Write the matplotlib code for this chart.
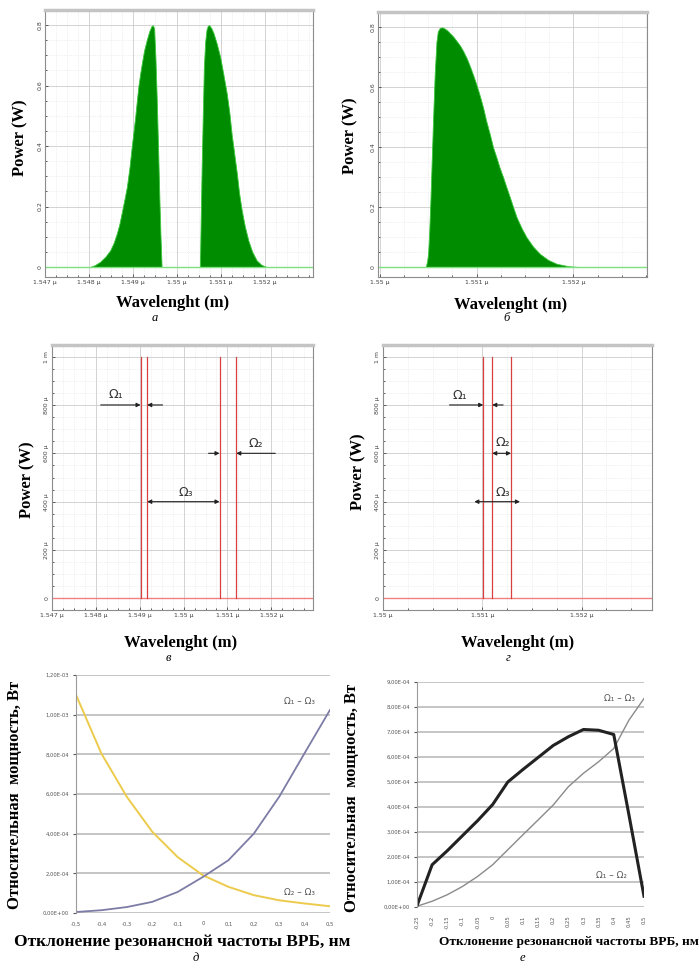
import matplotlib
matplotlib.use('Agg')
import matplotlib.pyplot as plt
from matplotlib.ticker import AutoMinorLocator

# ---- spectra, wavelength in nm, power in W ----
wl_a1 = [1548.02, 1548.13, 1548.25, 1548.37, 1548.48, 1548.56, 1548.63, 1548.69,
         1548.74, 1548.80, 1548.86, 1548.92, 1548.97, 1549.01, 1549.05, 1549.085,
         1549.12, 1549.16, 1549.20, 1549.25, 1549.31, 1549.37, 1549.42, 1549.45,
         1549.48, 1549.51, 1549.54, 1549.57, 1549.60, 1549.625, 1549.65]
p_a1 = [0, 0.006, 0.017, 0.034, 0.055, 0.08, 0.11, 0.142,
        0.177, 0.22, 0.265, 0.33, 0.397, 0.447, 0.497, 0.547,
        0.596, 0.637, 0.673, 0.715, 0.75, 0.78, 0.797, 0.8,
        0.789, 0.69, 0.552, 0.39, 0.221, 0.1, 0]
wl_a2 = [1550.52, 1550.54, 1550.56, 1550.585, 1550.61, 1550.64, 1550.67, 1550.70,
         1550.73, 1550.78, 1550.83, 1550.90, 1550.98, 1551.05, 1551.13, 1551.19,
         1551.24, 1551.30, 1551.36, 1551.41, 1551.47, 1551.54, 1551.62, 1551.71,
         1551.81, 1551.92, 1552.04]
p_a2 = [0, 0.17, 0.331, 0.5, 0.662, 0.745, 0.785, 0.798,
        0.8, 0.79, 0.773, 0.74, 0.695, 0.64, 0.574, 0.51,
        0.441, 0.375, 0.309, 0.245, 0.188, 0.135, 0.088, 0.05,
        0.022, 0.007, 0]

wl_b = [1550.476, 1550.49, 1550.50, 1550.512, 1550.524, 1550.538, 1550.552, 1550.568,
        1550.586, 1550.60, 1550.621, 1550.645, 1550.672, 1550.70, 1550.724, 1550.76,
        1550.793, 1550.83, 1550.862, 1550.90, 1550.931, 1550.965, 1551.0, 1551.035,
        1551.069, 1551.10, 1551.138, 1551.17, 1551.207, 1551.24, 1551.276, 1551.31,
        1551.345, 1551.38, 1551.414, 1551.465, 1551.517, 1551.585, 1551.655, 1551.74,
        1551.828, 1551.95, 1552.069]
p_b = [0, 0.02, 0.044, 0.12, 0.221, 0.36, 0.497, 0.64,
       0.75, 0.785, 0.797, 0.799, 0.795, 0.788, 0.78, 0.768,
       0.754, 0.738, 0.72, 0.695, 0.67, 0.64, 0.607, 0.57,
       0.53, 0.487, 0.442, 0.40, 0.364, 0.33, 0.298, 0.265,
       0.232, 0.198, 0.166, 0.13, 0.099, 0.068, 0.044, 0.024,
       0.011, 0.003, 0]

# resonance lines (nm), height in uW
lines_c = [1549.02, 1549.17, 1550.82, 1551.20]
lines_d = [1551.01, 1551.10, 1551.29]
line_h = 1000

# ---- power vs detuning ----
det_e = ['-0,5', '-0,4', '-0,3', '-0,2', '-0,1', '0', '0,1', '0,2', '0,3', '0,4', '0,5']
w13_e = [0.05, 0.14, 0.30, 0.56, 1.06, 1.82, 2.66, 4.0, 5.86, 8.06, 10.24]   # x1e-4
w23_e = [11.0, 8.04, 5.86, 4.10, 2.82, 1.90, 1.32, 0.90, 0.64, 0.48, 0.34]

det_f = ['-0,25', '-0,2', '-0,15', '-0,1', '-0,05', '0', '0,05', '0,1',
         '0,15', '0,2', '0,25', '0,3', '0,35', '0,4', '0,45', '0,5']
w12_f = [0.05, 1.69, 2.25, 2.85, 3.45, 4.1, 5.0, 5.5,
         5.98, 6.46, 6.81, 7.1, 7.07, 6.9, 3.7, 0.43]                      # x1e-4
w13_f = [0.03, 0.23, 0.49, 0.82, 1.22, 1.69, 2.29, 2.89,
         3.48, 4.08, 4.81, 5.35, 5.81, 6.34, 7.47, 8.34]

W, H = 699, 972
fig = plt.figure(figsize=(W / 100, H / 100), dpi=100)
SERIF = 'Liberation Serif'


def px_axes(l, t, r, b):
    return fig.add_axes([l / W, 1 - b / H, (r - l) / W, (b - t) / H])


def ftext(x, y, s, **kw):
    fig.text(x / W, 1 - y / H, s, **kw)


def osa_axes(box, xlim, xticks, ylim, yticks, ylabels):
    ax = px_axes(*box)
    ax.set_xlim(*xlim)
    ax.set_ylim(*ylim)
    ax.set_xticks(xticks)
    ax.set_xticklabels(['{:g} \u00b5'.format(v / 1000) for v in xticks])
    ax.set_yticks(yticks)
    ax.set_yticklabels(ylabels, rotation=90, va='center')
    ax.xaxis.set_minor_locator(AutoMinorLocator(4))
    ax.yaxis.set_minor_locator(AutoMinorLocator(4))
    ax.grid(which='major', color='#cccccc', lw=0.6)
    ax.grid(which='minor', color='#e2e2e2', lw=0.5, ls=':')
    ax.tick_params(which='both', direction='in', length=2, width=0.6,
                   labelsize=4.5, colors='#444444', pad=2)
    ax.tick_params(which='minor', length=1.5)
    for s in ax.spines.values():
        s.set_color('#8c8c8c')
        s.set_linewidth(0.8)
    ax.spines['top'].set_color('#c4c4c4')
    ax.spines['top'].set_linewidth(2.5)
    ax.set_axisbelow(True)
    return ax


def excel_axes(box, ymax, ystep, cats, rot):
    ax = px_axes(*box)
    ax.set_xlim(0, len(cats) - 1)
    ax.set_ylim(0, ymax)
    yt = [i * ystep for i in range(int(round(ymax / ystep)) + 1)]
    ax.set_yticks(yt)
    ax.set_yticklabels([('%.2E' % (v * 1e-4)).replace('.', ',') for v in yt])
    ax.set_xticks(range(len(cats)))
    ax.set_xticklabels(cats, rotation=rot)
    ax.grid(axis='y', color='#c0c0c0', lw=1.3)
    for k in ['top', 'right', 'bottom']:
        ax.spines[k].set_visible(False)
    ax.spines['left'].set_color('#9a9a9a')
    ax.tick_params(axis='y', length=2, labelsize=3.8, colors='#555555', pad=3)
    ax.tick_params(axis='x', length=0, labelsize=3.8, colors='#555555', pad=6)
    ax.set_axisbelow(True)
    return ax


label_kw = dict(family=SERIF, weight='bold', fontsize=12, ha='center', va='center')
letter_kw = dict(family=SERIF, style='italic', fontsize=9, ha='center', va='center')
om_kw = dict(fontsize=9, color='#333333', ha='center', va='center')

# ---- a ----
pw_ticks = [0, 0.2, 0.4, 0.6, 0.8]
pw_labels = ['0', '0.2', '0.4', '0.6', '0.8']
ax = osa_axes((45, 10, 313, 277), (1547.0, 1553.09), [1547, 1548, 1549, 1550, 1551, 1552],
              (-0.033, 0.85), pw_ticks, pw_labels)
ax.axhline(0, color='#7ee07e', lw=1.0)
ax.fill_between(wl_a1, p_a1, color='#008c00', edgecolor='#3cc83c', lw=0.6)
ax.fill_between(wl_a2, p_a2, color='#008c00', edgecolor='#3cc83c', lw=0.6)
ftext(20, 138, 'Power (W)', rotation=90, **label_kw)
ftext(173, 303, 'Wavelenght (m)', **label_kw)
ftext(155, 318, 'а', **letter_kw)

# ---- b ----
ax = osa_axes((378, 12, 647, 277), (1549.983, 1552.76), [1550, 1551, 1552],
              (-0.033, 0.85), pw_ticks, pw_labels)
ax.axhline(0, color='#7ee07e', lw=1.0)
ax.fill_between(wl_b, p_b, color='#008c00', edgecolor='#3cc83c', lw=0.6)
ftext(350, 136, 'Power (W)', rotation=90, **label_kw)
ftext(511, 305, 'Wavelenght (m)', **label_kw)
ftext(507, 318, 'б', **letter_kw)

# ---- c ----
uw_ticks = [0, 200, 400, 600, 800, 1000]
uw_labels = ['0', '200 \u00b5', '400 \u00b5', '600 \u00b5', '800 \u00b5', '1 m']
arr = dict(arrowstyle='-|>', color='#222222', lw=0.8, mutation_scale=6, shrinkA=0, shrinkB=0)
darr = dict(arrowstyle='<|-|>', color='#222222', lw=0.8, mutation_scale=6, shrinkA=0, shrinkB=0)

ax = osa_axes((52, 345, 313, 610), (1547.0, 1552.95), [1547, 1548, 1549, 1550, 1551, 1552],
              (-48, 1048), uw_ticks, uw_labels)
ax.axhline(0, color='#f08080', lw=1.0)
for x in lines_c:
    ax.plot([x, x], [0, line_h], color='#d84040', lw=0.9)
ax.annotate('', xy=(lines_c[0], 800), xytext=(1548.11, 800), arrowprops=arr)
ax.annotate('', xy=(lines_c[1], 800), xytext=(1549.52, 800), arrowprops=arr)
ax.text(1548.45, 845, 'Ω\u2081', **om_kw)
ax.annotate('', xy=(lines_c[2], 600), xytext=(1550.57, 600), arrowprops=arr)
ax.annotate('', xy=(lines_c[3], 600), xytext=(1552.09, 600), arrowprops=arr)
ax.text(1551.64, 640, 'Ω\u2082', **om_kw)
ax.annotate('', xy=(lines_c[1], 400), xytext=(lines_c[2], 400), arrowprops=darr)
ax.text(1550.05, 440, 'Ω\u2083', **om_kw)
ftext(27, 480, 'Power (W)', rotation=90, **label_kw)
ftext(181, 643, 'Wavelenght (m)', **label_kw)
ftext(168, 658, 'в', **letter_kw)

# ---- d ----
ax = osa_axes((383, 345, 652, 610), (1550.0, 1552.71), [1550, 1551, 1552],
              (-48, 1048), uw_ticks, uw_labels)
ax.axhline(0, color='#f08080', lw=1.0)
for x in lines_d:
    ax.plot([x, x], [0, line_h], color='#d84040', lw=0.9)
ax.annotate('', xy=(lines_d[0], 800), xytext=(1550.67, 800), arrowprops=arr)
ax.annotate('', xy=(lines_d[1], 800), xytext=(1551.21, 800), arrowprops=arr)
ax.text(1550.77, 840, 'Ω\u2081', **om_kw)
ax.annotate('', xy=(lines_d[1], 600), xytext=(lines_d[2], 600), arrowprops=darr)
ax.text(1551.21, 645, 'Ω\u2082', **om_kw)
ax.annotate('', xy=(1550.92, 400), xytext=(1551.38, 400), arrowprops=darr)
ax.text(1551.21, 440, 'Ω\u2083', **om_kw)
ftext(358, 472, 'Power (W)', rotation=90, **label_kw)
ftext(518, 643, 'Wavelenght (m)', **label_kw)
ftext(508, 658, 'г', **letter_kw)

# ---- e ----
ax = excel_axes((76, 675, 330, 913), 12, 2, det_e, 0)
ax.plot(range(len(det_e)), w23_e, color='#eccb4c', lw=1.4)
ax.plot(range(len(det_e)), w13_e, color='#7c7ca6', lw=1.3)
ftext(300, 702, 'Ω\u2081 – Ω\u2083', fontsize=6.5, color='#555555', ha='center', va='center')
ftext(300, 892, 'Ω\u2082 – Ω\u2083', fontsize=6.5, color='#555555', ha='center', va='center')
ftext(15, 795, 'Относительная  мощность, Вт', rotation=90, **label_kw)
ftext(182, 942, 'Отклонение резонансной частоты ВРБ, нм',
      **dict(label_kw, fontsize=12.5))
ftext(196, 958, 'д', **letter_kw)

# ---- f ----
ax = excel_axes((417, 682, 644, 907), 9, 1, det_f, 90)
ax.plot(range(len(det_f)), w13_f, color='#8a8a8a', lw=1.0)
ax.plot(range(len(det_f)), w12_f, color='#222222', lw=2.2)
ftext(620, 698, 'Ω\u2081 – Ω\u2083', fontsize=6.5, color='#555555', ha='center', va='center')
ftext(612, 875, 'Ω\u2081 – Ω\u2082', fontsize=6.5, color='#555555', ha='center', va='center')
ftext(352, 798, 'Относительная  мощность, Вт', rotation=90, **label_kw)
ftext(569, 942, 'Отклонение резонансной частоты ВРБ, нм',
      **dict(label_kw, fontsize=9.6))
ftext(522, 958, 'е', **letter_kw)

fig.savefig('out.png', dpi=100)
